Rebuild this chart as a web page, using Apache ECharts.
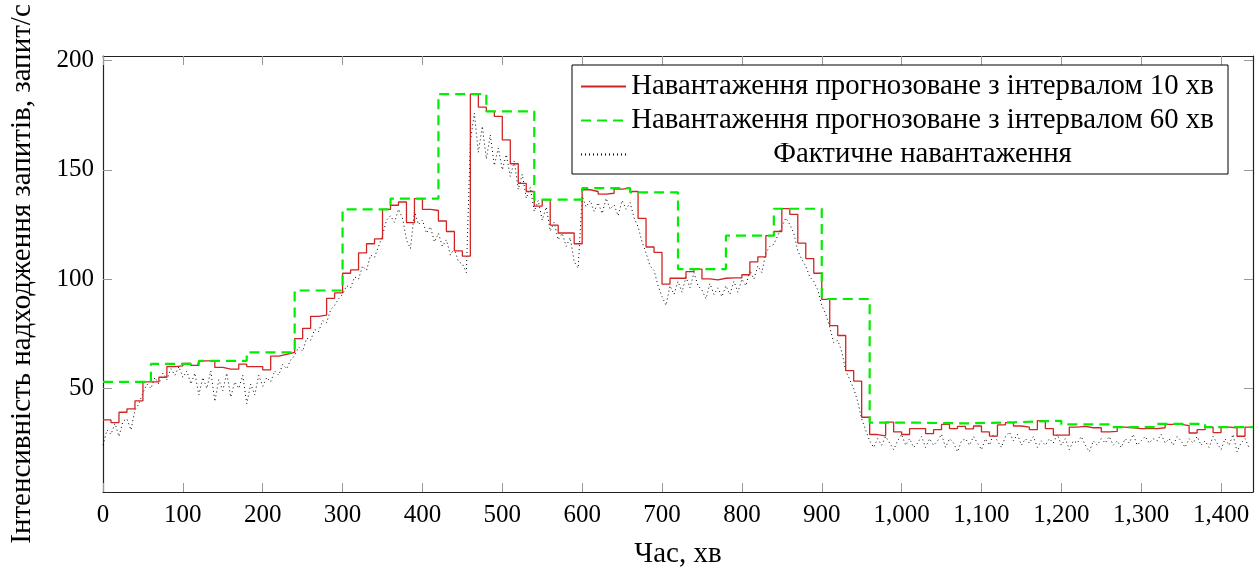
<!DOCTYPE html>
<html><head><meta charset="utf-8">
<script src="https://cdn.jsdelivr.net/npm/echarts@6/dist/echarts.min.js"></script>
<style>html,body{margin:0;padding:0;background:#fff}#c{width:1258px;height:574px}</style>
</head><body><div id="c"></div>
<script>
const seriesNames = [
  'Навантаження прогнозоване з інтервалом 10 хв',
  'Навантаження прогнозоване з інтервалом 60 хв',
  'Фактичне навантаження'
];
const xAxisName = 'Час, хв';
const yAxisName = 'Інтенсивність надходження запитів, запит/с';

// forecast, 10-minute steps (144 values)
const redStep = 10;
const redValues = [
  35.6, 34.3, 39.1, 40.6, 44.3, 53.0, 53.0, 55.1, 60.0, 60.3, 61.5, 60.5,
  62.6, 62.6, 59.6, 58.8, 58.8, 61.1, 60.0, 60.0, 58.5, 64.8, 65.6, 66.5,
  72.8, 77.5, 83.0, 83.5, 91.2, 93.7, 102.7, 104.2, 112.0, 116.2, 118.4, 131.9,
  133.8, 135.3, 125.9, 136.8, 131.9, 131.4, 126.6, 121.8, 112.9, 110.5, 184.7, 178.7,
  176.8, 174.5, 163.7, 152.8, 143.8, 140.1, 133.4, 136.4, 124.7, 121.1, 121.1, 116.2,
  140.9, 140.1, 138.9, 139.3, 141.2, 141.6, 140.1, 127.8, 114.7, 112.2, 97.7, 100.4,
  100.4, 103.4, 104.6, 100.1, 99.7, 100.4, 100.6, 100.6, 102.0, 107.9, 110.2, 119.9,
  121.8, 132.3, 129.6, 116.5, 109.4, 102.7, 90.7, 78.7, 74.2, 58.1, 53.3, 36.8,
  28.9, 28.3, 34.6, 30.1, 28.9, 31.6, 31.6, 29.3, 31.1, 33.5, 31.6, 32.6,
  31.5, 32.8, 30.1, 28.2, 33.3, 34.3, 32.8, 32.3, 31.1, 35.3, 31.6, 28.6,
  28.6, 32.3, 32.6, 32.0, 32.0, 30.1, 30.3, 32.3, 32.0, 31.6, 31.6, 31.6,
  32.0, 33.5, 33.5, 33.0, 29.6, 31.1, 32.3, 29.8, 32.3, 32.0, 28.1, 32.3
];

// forecast, 60-minute steps (24 values)
const greenStep = 60;
const greenValues = [
  53.0, 61.2, 62.6, 66.5, 94.8, 131.9, 136.8, 184.7, 176.8, 136.4, 141.6, 139.7,
  104.6, 119.9, 132.2, 90.9, 34.3, 34.0, 34.5, 35.2, 33.5, 32.3, 33.8, 32.3
];

// actual load, sampled every 5 minutes (288 values)
const actualStep = 5;
const actualValues = [
  24, 31, 29, 34, 28, 35, 36, 31, 40, 43, 48, 52,
  50, 55, 52, 57, 54, 59, 56, 60, 55, 58, 52, 57,
  47, 55, 50, 58, 44, 54, 49, 57, 46, 53, 50, 56,
  43, 52, 47, 56, 51, 55, 53, 58, 56, 61, 59, 63,
  65, 69, 67, 73, 72, 77, 76, 81, 80, 86, 88, 91,
  93, 97, 96, 101, 100, 106, 104, 111, 110, 115, 120, 127,
  129, 126, 132, 128, 118, 114, 131, 125, 127, 121, 124, 117,
  121, 115, 118, 111, 114, 108, 107, 103, 163, 176, 158, 170,
  155, 166, 152, 160, 150, 157, 147, 154, 141, 148, 137, 142,
  131, 136, 127, 133, 122, 126, 118, 121, 115, 119, 108, 105,
  138, 133, 136, 131, 135, 130, 137, 132, 134, 129, 136, 132,
  135, 128, 124, 117, 112, 106, 104, 97, 92, 88, 97, 93,
  99, 94, 101, 96, 103, 97, 95, 91, 98, 93, 96, 92,
  97, 93, 99, 94, 100, 97, 104, 100, 106, 103, 112, 115,
  116, 120, 124, 128, 125, 121, 113, 109, 106, 101, 99, 95,
  88, 84, 78, 71, 72, 67, 58, 54, 50, 44, 36, 31,
  26, 23, 27, 24, 28, 25, 22, 26, 29, 24, 27, 23,
  25, 28, 23, 27, 24, 26, 29, 23, 27, 25, 21, 26,
  27, 24, 28, 25, 22, 27, 24, 29, 26, 23, 28, 30,
  26, 29, 24, 27, 25, 28, 23, 26, 24, 27, 25, 29,
  24, 27, 22, 26, 25, 28, 24, 21, 26, 24, 27, 25,
  28, 24, 26, 23, 27, 25, 29, 24, 26, 28, 25, 27,
  26, 29, 25, 27, 24, 28, 26, 23, 27, 25, 28, 24,
  26, 23, 28, 25, 22, 27, 24, 29, 21, 25, 27, 23
];

const xTicks = [0, 100, 200, 300, 400, 500, 600, 700, 800, 900, 1000, 1100, 1200, 1300, 1400];
const yTicks = [50, 100, 150, 200];
const xMin = 0, xMax = 1440, yMin = 2.6, yMax = 202.1;

function stepPairs(vals, step) {
  const d = vals.map((v, i) => [i * step, v]);
  d.push([vals.length * step, vals[vals.length - 1]]);
  return d;
}
function pairs(vals, step) { return vals.map((v, i) => [i * step, v]); }

const FONT = 'Liberation Serif';
const frame = { show: true, onZero: false, lineStyle: { color: '#222', width: 1.2 } };
const tickStyle = { color: '#999', width: 1 };

function xAx(pos, labels) {
  return {
    type: 'value', position: pos, min: xMin, max: xMax,
    axisLine: frame,
    axisTick: { show: true, inside: true, length: 9, customValues: xTicks, lineStyle: tickStyle },
    axisLabel: labels ? {
      show: true, customValues: xTicks, margin: 11, fontSize: 25, fontFamily: FONT, color: '#000',
      formatter: v => Number(v).toLocaleString('en-US')
    } : { show: false },
    splitLine: { show: false },
    name: labels ? xAxisName : '', nameLocation: 'middle', nameGap: 48,
    nameTextStyle: { fontSize: 29, fontFamily: FONT, color: '#000' }
  };
}
function yAx(pos, labels) {
  return {
    type: 'value', position: pos, min: yMin, max: yMax,
    axisLine: frame,
    axisTick: { show: true, inside: true, length: 9, customValues: yTicks, lineStyle: tickStyle },
    axisLabel: labels ? {
      show: true, customValues: yTicks, margin: 9, fontSize: 25, fontFamily: FONT, color: '#000'
    } : { show: false },
    splitLine: { show: false },
    name: labels ? yAxisName : '', nameLocation: 'middle', nameGap: 66, nameRotate: 90,
    nameTextStyle: { fontSize: 29, fontFamily: FONT, color: '#000' }
  };
}

const chart = echarts.init(document.getElementById('c'), null, { renderer: 'canvas' });
chart.setOption({
  animation: false,
  backgroundColor: '#fff',
  grid: { left: 102, right: 5, top: 56, bottom: 76, containLabel: false },
  xAxis: [xAx('bottom', true), xAx('top', false)],
  yAxis: [yAx('left', true), yAx('right', false)],
  legend: {
    orient: 'vertical', left: 572, top: 65,
    padding: [7, 14, 5, 8], itemGap: 5, itemWidth: 45, itemHeight: 14,
    backgroundColor: '#fff', borderColor: '#000', borderWidth: 1, borderRadius: 0,
    data: seriesNames,
    itemStyle: { opacity: 0, borderWidth: 0 },
    formatter: n => '{c|' + n + '}',
    textStyle: {
      fontFamily: FONT, fontSize: 28.8, color: '#000',
      rich: { c: { width: 583, align: 'center', lineHeight: 26, fontFamily: FONT, fontSize: 28.8, color: '#000' } }
    }
  },
  series: [
    {
      name: seriesNames[0], type: 'line', step: 'end', symbol: 'none',
      data: stepPairs(redValues, redStep),
      lineStyle: { color: '#d02525', width: 1.3 }, itemStyle: { color: 'rgba(0,0,0,0)' }, z: 3
    },
    {
      name: seriesNames[1], type: 'line', step: 'end', symbol: 'none',
      data: stepPairs(greenValues, greenStep),
      lineStyle: { color: '#00ee00', width: 2.2, type: [10, 6] }, itemStyle: { color: 'rgba(0,0,0,0)' }, z: 4
    },
    {
      name: seriesNames[2], type: 'line', symbol: 'none',
      data: pairs(actualValues, actualStep),
      lineStyle: { color: '#000', width: 1, type: [1, 3] }, itemStyle: { color: 'rgba(0,0,0,0)' }, z: 2
    }
  ]
});
</script>
</body></html>
